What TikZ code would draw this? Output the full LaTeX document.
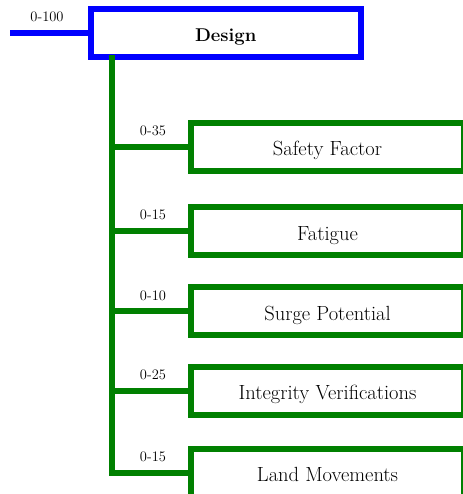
\documentclass[tikz,border=0pt]{standalone}
\usepackage{tikz}
\definecolor{rootblue}{RGB}{0,0,255}
\definecolor{leafgreen}{RGB}{0,128,0}
\tikzset{
  rootbox/.style={draw=rootblue, line width=6pt, rectangle, minimum width=269.5pt,
    minimum height=48pt, inner sep=0pt, font=\fontsize{18.5}{22}\selectfont\bfseries},
  leafbox/.style={draw=leafgreen, line width=6pt, rectangle, minimum width=273pt,
    minimum height=48pt, inner sep=0pt, font=\fontsize{20.5}{24}\selectfont},
  rootwire/.style={draw=rootblue, line width=6pt},
  leafwire/.style={draw=leafgreen, line width=6pt, line join=miter},
  score/.style={font=\fontsize{14.5}{17}\selectfont, inner sep=0pt}
}
% fixed-size caption box: its baseline lies 9pt below the middle of the box
\newcommand{\boxtext}[1]{\raisebox{0pt}[18pt][0pt]{#1}}
\begin{document}
\begin{tikzpicture}[x=1pt, y=-1pt]
  \useasboundingbox (0,0) rectangle (462,494);

  % top-level item and its incoming wire
  \node[rootbox] (design) at (225.75,33) {\boxtext{Design}};
  \coordinate (rootin) at (10,33);
  \draw[rootwire] (rootin) -- (design.west);
  \node[score] (rootscore) at (47,17) {0-100};

  % sub-items
  \node[leafbox] (sf)  at (327.5,147)    {\boxtext{Safety Factor}};
  \node[leafbox] (fat) at (327.5,231)    {\boxtext{Fatigue}};
  \node[leafbox] (sp)  at (327.5,311.25) {\boxtext{Surge Potential}};
  \node[leafbox] (iv)  at (327.5,390.75) {\boxtext{Integrity Verifications}};
  \node[leafbox] (lm)  at (327.5,472.5)  {\boxtext{Land Movements}};

  % trunk and branches
  \coordinate (trunk) at (112,0);
  \draw[leafwire] ([yshift=5pt]design.south -| trunk) |- (lm.west);
  \foreach \n in {sf,fat,sp,iv}
    \draw[leafwire] (trunk |- \n.west) -- (\n.west);

  % branch scores
  \node[score] (s1) at (153,131)   {0-35};
  \node[score] (s2) at (153,215)   {0-15};
  \node[score] (s3) at (153,295.5) {0-10};
  \node[score] (s4) at (153,375)   {0-25};
  \node[score] (s5) at (153,456.5) {0-15};
\end{tikzpicture}
\end{document}
